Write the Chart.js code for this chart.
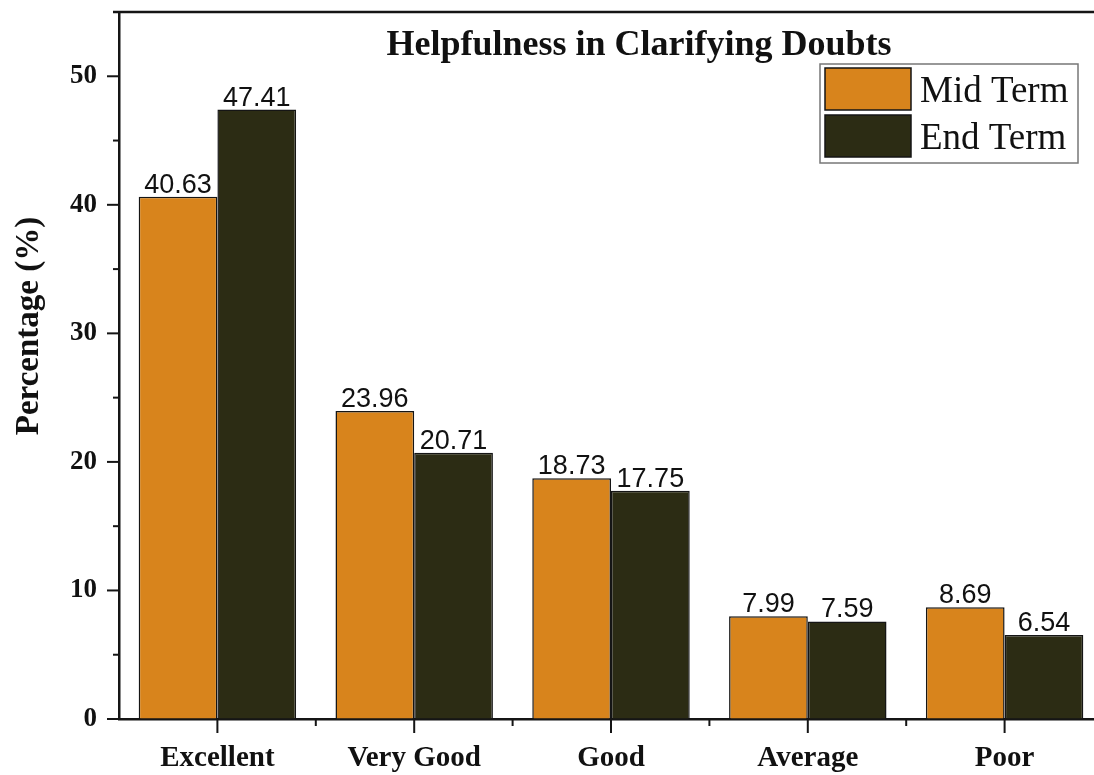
<!DOCTYPE html>
<html>
<head>
<meta charset="utf-8">
<script src="https://cdn.jsdelivr.net/npm/chart.js@4.4.1/dist/chart.umd.min.js"></script>
<style>
  html,body{margin:0;padding:0;background:#fff;overflow:hidden}
  #wrap{position:relative;width:1110px;height:775px}
</style>
</head>
<body>
<div id="wrap"><canvas id="chart"></canvas></div>
<script>
const categories  = ['Excellent','Very Good','Good','Average','Poor'];
const midTerm     = [40.63, 23.96, 18.73, 7.99, 8.69];
const endTerm     = [47.41, 20.71, 17.75, 7.59, 6.54];
const seriesNames = ['Mid Term','End Term'];
const chartTitle  = 'Helpfulness in Clarifying Doubts';
const yTitle      = 'Percentage (%)';
const yMax = 55, yStep = 5, yLabelStep = 10;

const SERIF = '"Liberation Serif", "DejaVu Serif", serif';
const SANS  = '"Liberation Sans", Arial, sans-serif';
const INK   = '#151515';

// top frame line, outward tick marks (major + minor)
const framePlugin = {
  id: 'frame',
  afterDraw(chart){
    const {ctx, chartArea:a, scales:{x, y}} = chart;
    ctx.save();
    ctx.strokeStyle = INK;
    ctx.lineWidth = 2.5;
    ctx.beginPath();
    ctx.moveTo(a.left - 6, a.top);
    ctx.lineTo(chart.width, a.top);
    ctx.stroke();

    ctx.lineWidth = 2;
    y.ticks.forEach(t => {
      if (t.value > 50) return;
      const py = y.getPixelForValue(t.value);
      const len = t.value % yLabelStep === 0 ? 12 : 6;
      ctx.beginPath(); ctx.moveTo(a.left - len, py); ctx.lineTo(a.left, py); ctx.stroke();
    });
    const half = (x.getPixelForValue(1) - x.getPixelForValue(0)) / 2;
    categories.forEach((c, i) => {
      const px = x.getPixelForValue(i);
      ctx.beginPath(); ctx.moveTo(px, a.bottom); ctx.lineTo(px, a.bottom + 14); ctx.stroke();
      if (i > 0) {
        ctx.beginPath(); ctx.moveTo(px - half, a.bottom); ctx.lineTo(px - half, a.bottom + 7); ctx.stroke();
      }
    });
    ctx.restore();
  }
};

// value labels above bars
const valueLabels = {
  id: 'valueLabels',
  afterDatasetsDraw(chart){
    const ctx = chart.ctx;
    ctx.save();
    ctx.font = '27px ' + SANS;
    ctx.fillStyle = '#111';
    ctx.textAlign = 'center';
    ctx.textBaseline = 'alphabetic';
    chart.data.datasets.forEach((ds, i) => {
      chart.getDatasetMeta(i).data.forEach((bar, j) => {
        ctx.fillText(ds.data[j].toFixed(2), bar.x, bar.y - 4);
      });
    });
    ctx.restore();
  }
};

// title, y title and legend box
const overlay = {
  id: 'overlay',
  afterDraw(chart){
    const ctx = chart.ctx;
    ctx.save();
    ctx.fillStyle = '#111';
    ctx.font = 'bold 36px ' + SERIF;
    ctx.textAlign = 'center';
    ctx.textBaseline = 'alphabetic';
    ctx.fillText(chartTitle, 639, 55);

    ctx.save();
    ctx.translate(29, 326);
    ctx.rotate(-Math.PI / 2);
    ctx.font = 'bold 33px ' + SERIF;
    ctx.textBaseline = 'middle';
    ctx.fillText(yTitle, 0, 0);
    ctx.restore();

    const bx = 820, by = 64, bw = 258, bh = 99;
    ctx.fillStyle = '#fff';
    ctx.fillRect(bx, by, bw, bh);
    ctx.strokeStyle = '#777';
    ctx.lineWidth = 1.5;
    ctx.strokeRect(bx, by, bw, bh);
    chart.data.datasets.forEach((ds, i) => {
      const sy = by + 4 + i * 47;
      ctx.fillStyle = ds.backgroundColor;
      ctx.fillRect(bx + 5, sy, 86, 42);
      ctx.strokeStyle = INK;
      ctx.lineWidth = 1.5;
      ctx.strokeRect(bx + 5, sy, 86, 42);
      ctx.fillStyle = '#111';
      ctx.font = '37px ' + SERIF;
      ctx.textAlign = 'left';
      ctx.fillText(ds.label, bx + 100, sy + 34);
    });
    ctx.restore();
  }
};

new Chart(document.getElementById('chart'), {
  type: 'bar',
  data: {
    labels: categories,
    datasets: [
      { label: seriesNames[0], data: midTerm, backgroundColor: '#D8841C', borderColor: INK, borderWidth: 1.5 },
      { label: seriesNames[1], data: endTerm, backgroundColor: '#2C2C14', borderColor: INK, borderWidth: 1.5 }
    ]
  },
  options: {
    responsive: true, maintainAspectRatio: false, animation: false,
    layout: { padding: { top: 12, right: 7, left: 0, bottom: 0 } },
    datasets: { bar: { categoryPercentage: 0.8, barPercentage: 1.0 } },
    plugins: { legend: { display: false }, tooltip: { enabled: false } },
    scales: {
      x: {
        grid: { drawOnChartArea: false, drawTicks: false },
        border: { display: true, width: 2.5, color: INK },
        ticks: { color: '#111', padding: 22, font: { family: SERIF, size: 29, weight: 'bold' } },
        afterFit(s){ s.height = 56; s.paddingLeft = 0; s.paddingRight = 0; }
      },
      y: {
        min: 0, max: yMax,
        grid: { drawOnChartArea: false, drawTicks: false },
        border: { display: true, width: 2.5, color: INK },
        ticks: {
          stepSize: yStep, padding: 22, color: '#111',
          font: { family: SERIF, size: 27, weight: 'bold' },
          callback: v => (v % yLabelStep === 0 && v <= 50) ? v : ''
        },
        afterFit(s){ s.width = 119; s.paddingTop = 0; s.paddingBottom = 0; }
      }
    }
  },
  plugins: [framePlugin, valueLabels, overlay]
});
</script>
</body>
</html>
